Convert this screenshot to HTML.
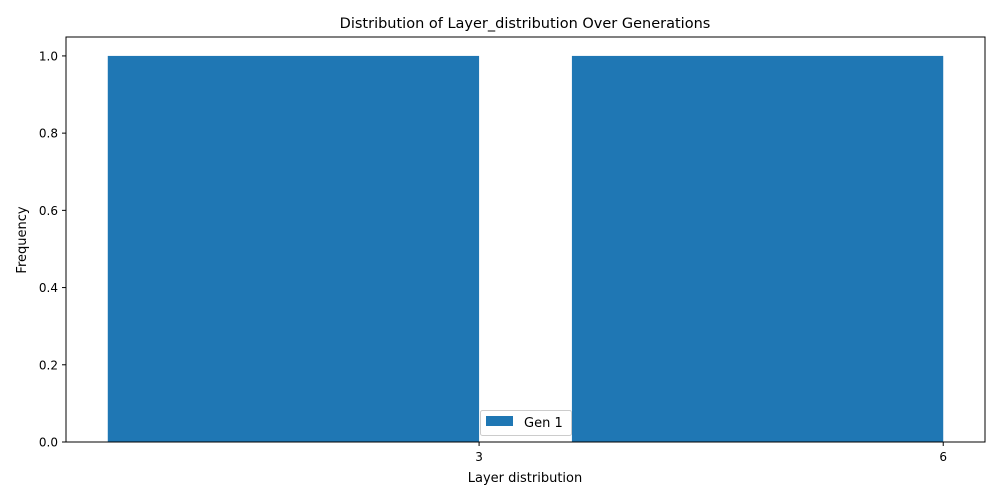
<!DOCTYPE html>
<html><head><meta charset="utf-8"><style>
html,body{margin:0;padding:0;background:#fff;}
svg{display:block;font-family:"DejaVu Sans","Liberation Sans",sans-serif;}
</style></head><body>
<svg id="chart" width="1000" height="500" viewBox="0 0 1000 500">
<rect width="1000" height="500" fill="#fff"/>
<text x="525" y="28" font-size="14.5" text-anchor="middle" fill="#000">Distribution of Layer_distribution Over Generations</text>
<g id="bars"></g>
<g id="xticks"></g>
<g id="yticks"></g>
<rect x="66" y="37" width="919" height="405" fill="none" stroke="#000" stroke-width="1"/>
<text x="525" y="482" font-size="13" text-anchor="middle">Layer distribution</text>
<text transform="translate(26,240) rotate(-90)" font-size="13" text-anchor="middle">Frequency</text>
<g>
<rect x="480.5" y="410.5" width="91" height="25" rx="2" fill="#fff" fill-opacity="0.8" stroke="#ccc"/>
<rect x="486" y="416" width="27" height="10" fill="#1f77b4"/>
<text x="524" y="427" font-size="13">Gen 1</text>
</g>
</svg>
<script>
const binStarts = [0.6, 3.6];
const binEnds = [3.0, 6.0];
const counts = [1, 1];
const xTicks = [3, 6];
const yTicks = [0.0, 0.2, 0.4, 0.6, 0.8, 1.0];

const NS = "http://www.w3.org/2000/svg";
const X0 = 66, X1 = 985, Y0 = 442, Y1 = 37;
const xMin = 0.33, xMax = 6.27, yMin = 0, yMax = 1.049;
const xs = v => X0 + (v - xMin) / (xMax - xMin) * (X1 - X0);
const ys = v => Y0 - (v - yMin) / (yMax - yMin) * (Y0 - Y1);

const bars = document.getElementById('bars');
counts.forEach((c, i) => {
  const r = document.createElementNS(NS, 'rect');
  r.setAttribute('x', xs(binStarts[i]));
  r.setAttribute('y', ys(c));
  r.setAttribute('width', xs(binEnds[i]) - xs(binStarts[i]));
  r.setAttribute('height', ys(0) - ys(c));
  r.setAttribute('fill', '#1f77b4');
  
  
  bars.appendChild(r);
});

const xg = document.getElementById('xticks');
xTicks.forEach(t => {
  const x = xs(t);
  const l = document.createElementNS(NS, 'line');
  l.setAttribute('x1', x); l.setAttribute('x2', x);
  l.setAttribute('y1', Y0); l.setAttribute('y2', Y0 + 4);
  l.setAttribute('stroke', '#000');
  
  
  xg.appendChild(l);
  const tx = document.createElementNS(NS, 'text');
  tx.setAttribute('x', x); tx.setAttribute('y', Y0 + 19);
  tx.setAttribute('font-size', '12');
  tx.setAttribute('text-anchor', 'middle');
  tx.textContent = t;
  
  
  xg.appendChild(tx);
});

const yg = document.getElementById('yticks');
yTicks.forEach(t => {
  const y = ys(t);
  const l = document.createElementNS(NS, 'line');
  l.setAttribute('x1', X0 - 4); l.setAttribute('x2', X0);
  l.setAttribute('y1', y); l.setAttribute('y2', y);
  l.setAttribute('stroke', '#000');
  
  
  yg.appendChild(l);
  const tx = document.createElementNS(NS, 'text');
  tx.setAttribute('x', X0 - 8); tx.setAttribute('y', y + 4.5);
  tx.setAttribute('font-size', '12');
  tx.setAttribute('text-anchor', 'end');
  tx.textContent = t.toFixed(1);
  
  
  yg.appendChild(tx);
});
</script>
</body></html>
